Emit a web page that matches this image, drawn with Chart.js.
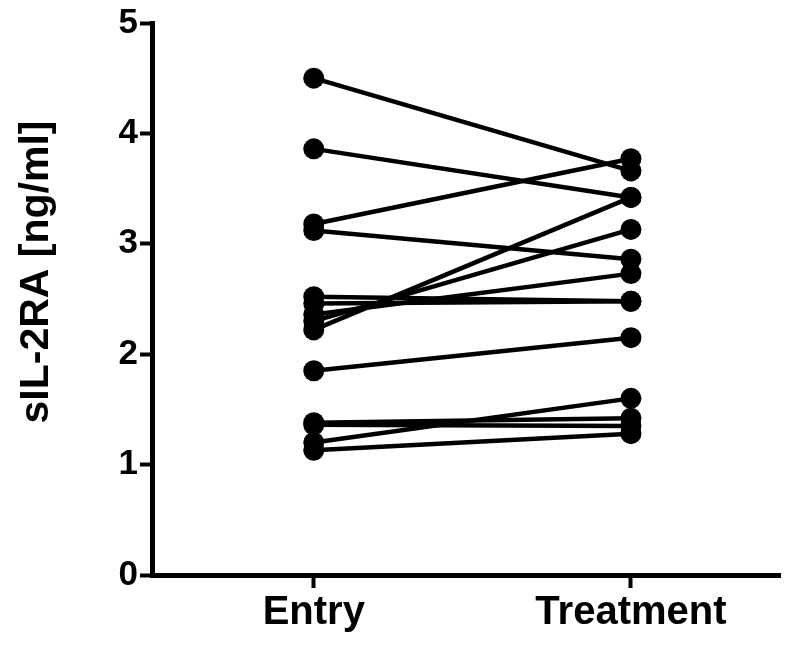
<!DOCTYPE html>
<html>
<head>
<meta charset="utf-8">
<script src="https://cdn.jsdelivr.net/npm/chart.js@4.4.1/dist/chart.umd.min.js"></script>
<style>
html,body{margin:0;padding:0;background:#fff;}
#wrap{width:800px;height:647px;position:relative;}
</style>
</head>
<body>
<div id="wrap"><canvas id="c" width="800" height="647"></canvas></div>
<script>
const categories = ['Entry', 'Treatment'];
const entryValues =     [4.50, 3.86, 3.18, 3.12, 2.52, 2.46, 2.36, 2.30, 2.22, 1.85, 1.38, 1.36, 1.20, 1.13];
const treatmentValues = [3.66, 3.42, 3.77, 2.86, 2.48, 2.48, 2.73, 3.13, 3.42, 2.15, 1.42, 1.35, 1.60, 1.28];
const yTicks = [0, 1, 2, 3, 4, 5];
const yTitle = 'sIL-2RA [ng/ml]';

const datasets = entryValues.map((e, i) => ({
  data: [{x: 0, y: e}, {x: 1, y: treatmentValues[i]}],
  borderColor: '#000',
  backgroundColor: '#000',
  borderWidth: 4.5,
  pointRadius: 10.5,
  pointHoverRadius: 10.5,
  pointBackgroundColor: '#000',
  pointBorderColor: '#000',
  pointBorderWidth: 0,
  showLine: true,
  clip: false
}));

const FONT = '"Liberation Sans", Arial, sans-serif';

const yTitlePlugin = {
  id: 'yTitle',
  afterDraw(chart) {
    const ctx = chart.ctx;
    ctx.save();
    ctx.translate(37, 272);
    ctx.rotate(-Math.PI / 2);
    ctx.font = 'bold 41px ' + FONT;
    ctx.fillStyle = '#000';
    ctx.textAlign = 'center';
    ctx.textBaseline = 'middle';
    ctx.fillText(yTitle, 0, 0);
    ctx.restore();
  }
};

new Chart(document.getElementById('c'), {
  type: 'scatter',
  data: { datasets },
  plugins: [yTitlePlugin],
  options: {
    responsive: false,
    animation: false,
    events: [],
    layout: { padding: { left: 0, top: 20, right: 20, bottom: 0 } },
    plugins: { legend: { display: false }, tooltip: { enabled: false } },
    scales: {
      x: {
        type: 'linear',
        min: -0.51,
        max: 1.47,
        afterBuildTicks: (s) => { s.ticks = categories.map((c, i) => ({ value: i })); },
        afterFit: (s) => { s.height = 72; },
        ticks: {
          callback: (v) => categories[v],
          color: '#000',
          font: { family: FONT, size: 40, weight: 'bold' },
          padding: 1,
          maxRotation: 0
        },
        grid: { drawOnChartArea: false, drawTicks: true, tickLength: 13, tickWidth: 4, tickColor: '#000' },
        border: { display: true, color: '#000', width: 5 }
      },
      y: {
        type: 'linear',
        min: 0,
        max: 5,
        afterBuildTicks: (s) => { s.ticks = yTicks.map(v => ({ value: v })); },
        afterFit: (s) => { s.width = 152; },
        ticks: {
          color: '#000',
          font: { family: FONT, size: 35, weight: 'bold' },
          padding: 2
        },
        title: { display: false },
        grid: { drawOnChartArea: false, drawTicks: true, tickLength: 12, tickWidth: 4, tickColor: '#000' },
        border: { display: true, color: '#000', width: 5 }
      }
    }
  }
});
</script>
</body>
</html>
